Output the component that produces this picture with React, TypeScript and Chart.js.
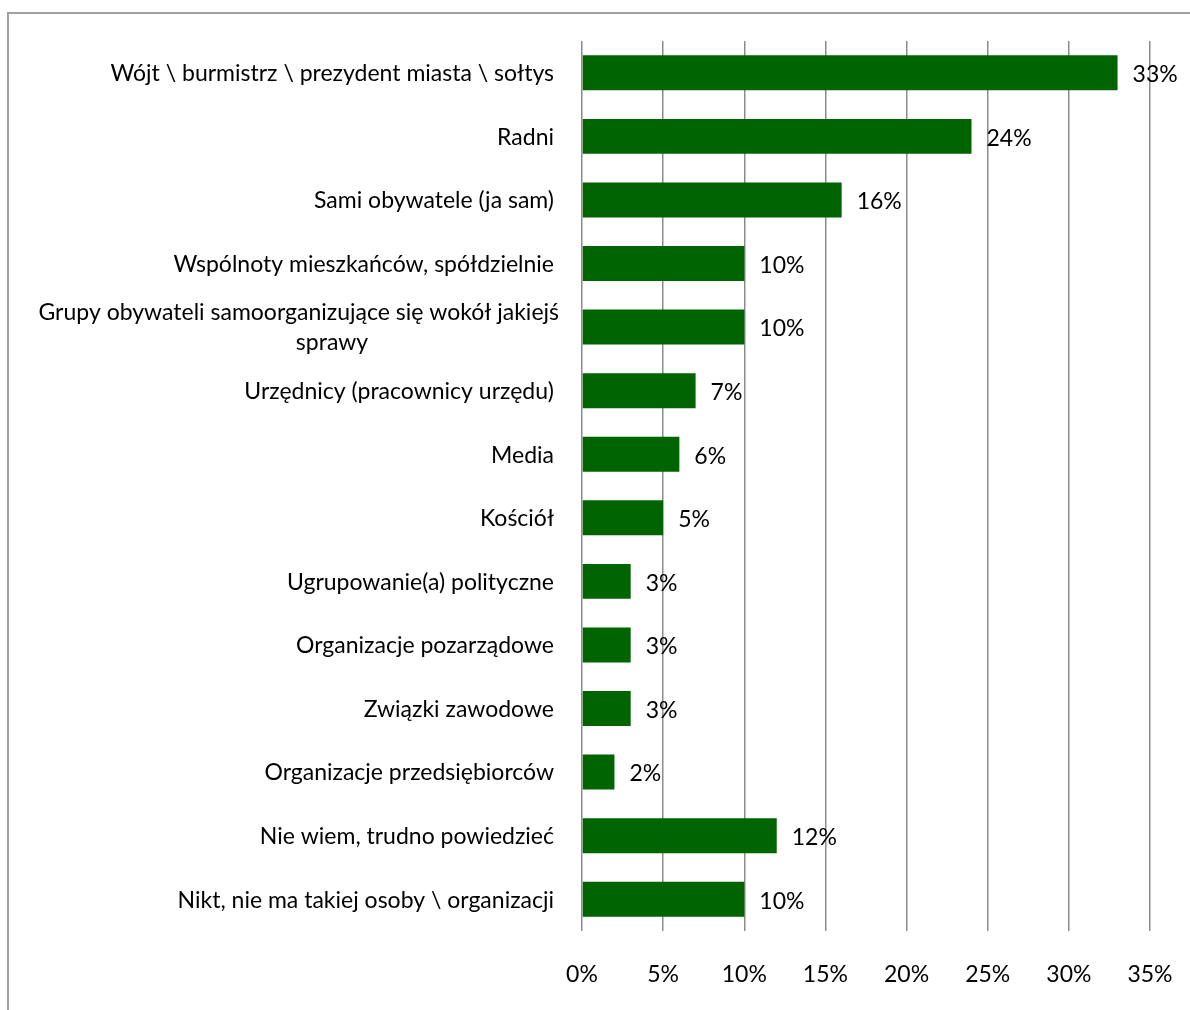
import React, { useEffect, useRef } from "react";
import { Chart, registerables } from "chart.js";

Chart.register(...registerables);

const categories: (string | string[])[] = [
  "Wójt \\ burmistrz \\ prezydent miasta \\ sołtys",
  "Radni",
  "Sami obywatele (ja sam)",
  "Wspólnoty mieszkańców, spółdzielnie",
  ["Grupy obywateli samoorganizujące się wokół jakiejś", "sprawy"],
  "Urzędnicy (pracownicy urzędu)",
  "Media",
  "Kościół",
  "Ugrupowanie(a) polityczne",
  "Organizacje pozarządowe",
  "Związki zawodowe",
  "Organizacje przedsiębiorców",
  "Nie wiem, trudno powiedzieć",
  "Nikt, nie ma takiej osoby \\ organizacji",
];

const values: number[] = [33, 24, 16, 10, 10, 7, 6, 5, 3, 3, 3, 2, 12, 10];

const axisMin = 0;
const axisMax = 35;
const axisStep = 5;

const FONT = "Lato, 'Open Sans', sans-serif";
const FONT_SIZE = 23;

const categoryLabelPlugin = {
  id: "categoryLabels",
  afterDraw(chart: any) {
    const ctx = chart.ctx;
    const yScale = chart.scales.y;
    const right = chart.chartArea.left - 28;
    const wrapCenter = right - 222;
    ctx.save();
    ctx.font = `${FONT_SIZE}px ${FONT}`;
    ctx.fillStyle = "#000000";
    ctx.textBaseline = "middle";
    categories.forEach((label, i) => {
      const y = yScale.getPixelForValue(i);
      const lines = Array.isArray(label) ? label : [label];
      const lineH = 30;
      const startY = y - ((lines.length - 1) * lineH) / 2 + 1;
      lines.forEach((l, j) => {
        if (j === 0) {
          ctx.textAlign = "right";
          ctx.fillText(l, right + (lines.length > 1 ? 5 : 0), startY);
        } else {
          ctx.textAlign = "center";
          ctx.fillText(l, wrapCenter, startY + j * lineH);
        }
      });
    });
    ctx.restore();
  },
};

const valueLabelPlugin = {
  id: "valueLabels",
  afterDatasetsDraw(chart: any) {
    const ctx = chart.ctx;
    const meta = chart.getDatasetMeta(0);
    ctx.save();
    ctx.font = `${FONT_SIZE}px ${FONT}`;
    ctx.fillStyle = "#000000";
    ctx.textBaseline = "middle";
    ctx.textAlign = "left";
    meta.data.forEach((bar: any, i: number) => {
      ctx.fillText(`${values[i]}%`, bar.x + 15, bar.y + 2);
    });
    ctx.restore();
  },
};

export default function App() {
  const canvasRef = useRef<HTMLCanvasElement | null>(null);

  useEffect(() => {
    if (!canvasRef.current) return;
    const chart = new Chart(canvasRef.current, {
      type: "bar",
      data: {
        labels: categories.map((c) => (Array.isArray(c) ? c.join(" ") : c)),
        datasets: [
          {
            data: values,
            backgroundColor: "#006400",
            borderWidth: 0,
            barPercentage: 0.55,
            categoryPercentage: 1,
          },
        ],
      },
      options: {
        indexAxis: "y",
        animation: false,
        responsive: false,
        devicePixelRatio: 1,
        layout: { padding: { left: 0, right: 40, top: 41, bottom: 0 } },
        plugins: {
          legend: { display: false },
          tooltip: { enabled: false },
        },
        scales: {
          x: {
            min: axisMin,
            max: axisMax,
            grid: {
              color: "#8c8c8c",
              lineWidth: 1.5,
              drawTicks: true,
              tickLength: 26,
              tickColor: "rgba(0,0,0,0)",
            },
            border: { display: false },
            ticks: {
              stepSize: axisStep,
              padding: 4,
              color: "#000000",
              font: { family: FONT, size: FONT_SIZE },
              callback: (v: any) => `${v}%`,
              maxRotation: 0,
            },
            afterFit: (s: any) => {
              s.height = 79;
            },
          },
          y: {
            grid: { display: false },
            border: { display: false },
            ticks: { display: false },
            afterFit: (s: any) => {
              s.width = 582;
            },
          },
        },
      },
      plugins: [categoryLabelPlugin, valueLabelPlugin],
    });
    return () => chart.destroy();
  }, []);

  return (
    <div
      style={{
        position: "fixed",
        left: 0,
        top: 0,
        width: 1190,
        height: 1010,
        overflow: "hidden",
        background: "#ffffff",
      }}
    >
      <div
        style={{
          position: "absolute",
          left: 7,
          top: 12,
          width: 1300,
          height: 1100,
          borderLeft: "2px solid #a0a0a0",
          borderTop: "2px solid #a0a0a0",
        }}
      />
      <canvas
        ref={canvasRef}
        width={1190}
        height={1010}
        style={{ position: "absolute", left: 0, top: 0, width: 1190, height: 1010 }}
      />
    </div>
  );
}
